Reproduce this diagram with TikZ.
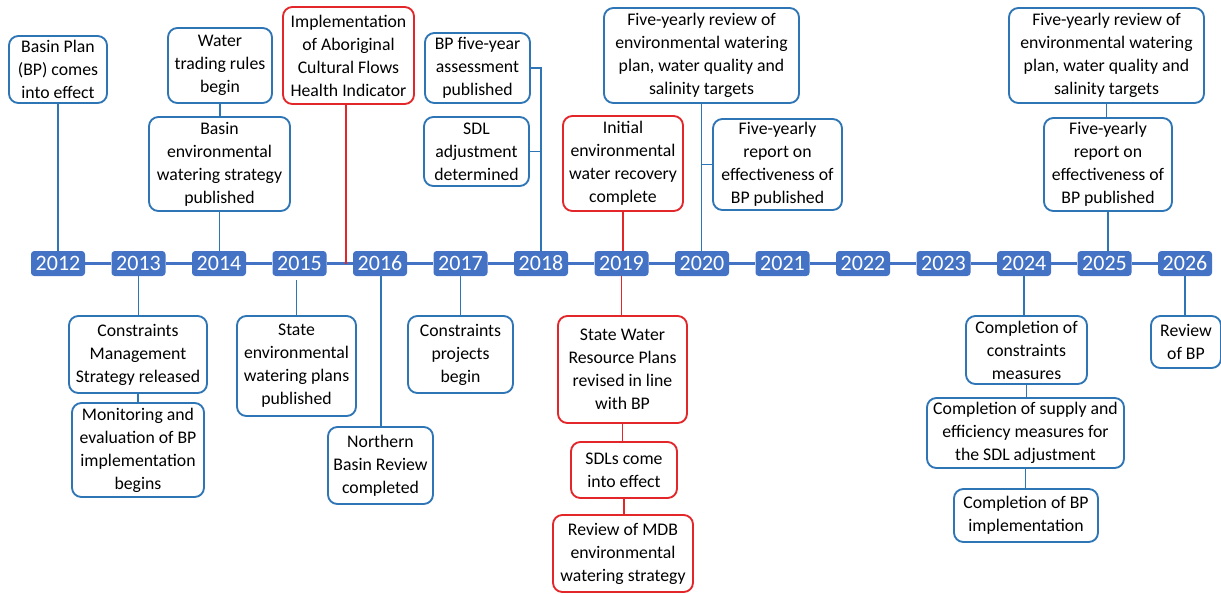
\documentclass[tikz,border=0pt]{standalone}
\usepackage{fontspec}
\setmainfont{Carlito}
\usepackage{tikz}
\usetikzlibrary{calc, positioning}
\definecolor{yearblue}{RGB}{68, 114, 196}
\definecolor{edgeblue}{RGB}{46, 117, 182}
\definecolor{mdbred}{RGB}{226, 38, 42}
\tikzset{
	yearbox/.style={fill=yearblue, text=white, rounded corners=2.5pt, minimum width=40.5pt, minimum height=18.75pt, inner sep=1pt, text height=11pt, text depth=0pt, font=\fontsize{16.5}{16.5}\selectfont},
	evbox/.style={draw=edgeblue, line width=1.4pt, rounded corners=7pt, align=center, inner sep=1.5pt, fill=white, font=\fontsize{13.3}{17.25}\selectfont},
	redbox/.style={evbox, draw=mdbred},
	tline/.style={draw=yearblue, line width=1.8pt},
	bline/.style={draw=edgeblue, line width=1.4pt},
	rline/.style={draw=mdbred, line width=1.4pt}
}
\begin{document}
\begin{tikzpicture}[x=0.75pt, y=-0.75pt]
			\useasboundingbox (0,0) rectangle (1221,593);
			\pgfmathsetmacro{\lineY}{263.5}
			% Years
			\foreach \yr [count=\i from 0] in {2012,...,2026}
			{
				\node[yearbox] (y\yr) at ({58+80.5*\i},\lineY) {\yr};
			}
			\foreach \yr in {2012,...,2025}
			{
				\pgfmathtruncatemacro{\nx}{\yr+1}
				\draw[tline] (y\yr.east) -- (y\nx.west);
			}
			
			% Above the line
			\node[evbox, minimum width=73.5pt, minimum height=50.25pt] (bp) at (58,69.5) {Basin Plan\\(BP) comes\\into effect};
			\node[evbox, minimum width=78pt, minimum height=56.25pt] (trade) at (220,65.5) {Water\\trading rules\\begin};
			\node[evbox, minimum width=105.75pt, minimum height=70.5pt] (bews) at (219.5,164) {Basin\\environmental\\watering strategy\\published};
			\node[redbox, minimum width=98.25pt, minimum height=72.75pt] (acf) at (348.5,55.5) {Implementation\\of Aboriginal\\Cultural Flows\\Health Indicator};
			\node[evbox, minimum width=78.75pt, minimum height=52.5pt] (assess) at (477.5,68) {BP five-year\\assessment\\published};
			\node[evbox, minimum width=78.75pt, minimum height=51.75pt] (sdladj) at (476.5,151.5) {SDL\\adjustment\\determined};
			\node[redbox, minimum width=90pt, minimum height=71.25pt] (recov) at (623,163.5) {Initial\\environmental\\water recovery\\complete};
			\node[evbox, minimum width=146.25pt, minimum height=71.25pt] (revA) at (701.5,55.5) {Five-yearly review of\\environmental watering\\plan, water quality and\\salinity targets};
			\node[evbox, minimum width=96.75pt, minimum height=68.25pt] (repA) at (777.5,164.5) {Five-yearly\\report on\\effectiveness of\\BP published};
			\node[evbox, minimum width=146.25pt, minimum height=71.25pt] (revB) at (1106.5,55.5) {Five-yearly review of\\environmental watering\\plan, water quality and\\salinity targets};
			\node[evbox, minimum width=96pt, minimum height=69.75pt] (repB) at (1108,164.5) {Five-yearly\\report on\\effectiveness of\\BP published};
			
			% Below the line
			\node[evbox, minimum width=103.5pt, minimum height=57.75pt] (cms) at (138,354.5) {Constraints\\Management\\Strategy released};
			\node[evbox, minimum width=99pt, minimum height=70.5pt] (monit) at (138,450) {Monitoring and\\evaluation of BP\\implementation\\begins};
			\node[evbox, minimum width=89.25pt, minimum height=75pt] (sewp) at (296.5,366) {State\\environmental\\watering plans\\published};
			\node[evbox, minimum width=78.75pt, minimum height=57.75pt] (nbr) at (380.5,465.5) {Northern\\Basin Review\\completed};
			\node[evbox, minimum width=78.75pt, minimum height=57.75pt] (cproj) at (460.5,354.5) {Constraints\\projects\\begin};
			\node[redbox, minimum width=96.75pt, minimum height=80.25pt] (swrp) at (622.5,369.5) {State Water\\Resource Plans\\revised in line\\with BP};
			\node[redbox, minimum width=79.5pt, minimum height=42pt] (sdl) at (624,470) {SDLs come\\into effect};
			\node[redbox, minimum width=105pt, minimum height=57.75pt] (mdb) at (623,553.5) {Review of MDB\\environmental\\watering strategy};
			\node[evbox, minimum width=90.75pt, minimum height=51pt] (ccm) at (1026.5,350) {Completion of\\constraints\\measures};
			\node[evbox, minimum width=147.75pt, minimum height=52.5pt] (csup) at (1025.5,433) {Completion of supply and\\efficiency measures for\\the SDL adjustment};
			\node[evbox, minimum width=108pt, minimum height=39.75pt] (cbp) at (1026,515.5) {Completion of BP\\implementation};
			\node[evbox, minimum width=52.5pt, minimum height=39pt] (rbp) at (1186,342) {Review\\of BP};
			
			% Links above
			\draw[bline] (bp.south) -- (bp.south |- y2012.north);
			\draw[bline] (trade.south) -- (trade.south |- bews.north);
			\draw[bline] (bews.south) -- (bews.south |- y2014.north);
			\draw[rline] ([xshift=-2pt]acf.south) -- ([xshift=-2pt]acf.south |- y2015.east);
			\draw[bline] (assess.east) -| (y2018.north);
			\draw[bline] (sdladj.east) -- (sdladj.east -| y2018.north);
			\draw[rline] (recov.south) -- (recov.south |- y2019.north);
			\draw[bline] (revA.south) -- (revA.south |- y2020.north);
			\draw[bline] (repA.west) -- (repA.west -| revA.south);
			\draw[bline] (revB.south) -- (revB.south |- repB.north);
			\draw[bline] (repB.south) -- (repB.south |- y2025.north);
			
			% Links below
			\draw[bline] (y2013.south) -- (y2013.south |- cms.north);
			\draw[bline] (cms.south) -- (cms.south |- monit.north);
			\draw[bline] ([yshift=-3pt]sewp.north |- y2015.south) -- (sewp.north);
			\draw[bline] ([xshift=1pt]y2016.south) -- ([xshift=1pt]y2016.south |- nbr.north);
			\draw[bline] (y2017.south) -- (y2017.south |- cproj.north);
			\draw[rline] (y2019.south) -- (y2019.south |- swrp.north);
			\draw[rline] (swrp.south) -- (swrp.south |- sdl.north);
			\draw[rline] (sdl.south) -- (sdl.south |- mdb.north);
			\draw[bline] (y2024.south) -- (y2024.south |- ccm.north);
			\draw[bline] (ccm.south) -- (ccm.south |- csup.north);
			\draw[bline] (csup.south) -- (csup.south |- cbp.north);
			\draw[bline] (y2026.south) -- (y2026.south |- rbp.north);
			
		\end{tikzpicture}
\end{document}
